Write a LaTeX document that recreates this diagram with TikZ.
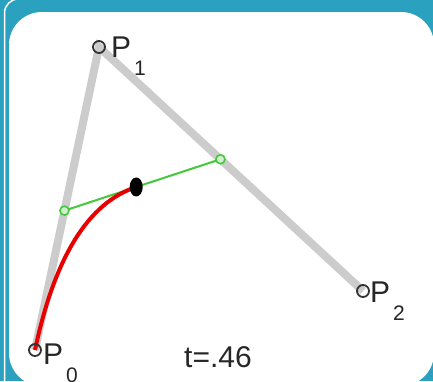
\documentclass[tikz,border=0pt]{standalone}
\usepackage{fontspec}
\setmainfont{Liberation Sans}
\usetikzlibrary{calc,shapes.geometric}
\definecolor{frameteal}{RGB}{42,161,191}
\definecolor{ctrlgray}{RGB}{204,204,204}
\definecolor{lerpgreen}{RGB}{70,200,60}
\definecolor{curvered}{RGB}{232,0,0}
\definecolor{markgray}{RGB}{50,50,50}
\tikzset{
  ctrlline/.style={ctrlgray, line width=8pt},
  greenline/.style={lerpgreen, line width=2pt},
  redcurve/.style={curvered, line width=4pt},
  ptmark/.style={circle, draw=markgray, line width=1.8pt, minimum size=12pt, inner sep=0pt},
  gmark/.style={circle, draw=lerpgreen, fill=lerpgreen!25, line width=1.6pt, minimum size=9pt, inner sep=0pt},
  bdot/.style={ellipse, fill=black, minimum width=13pt, minimum height=19pt, inner sep=0pt},
  lbl/.style={anchor=base west, inner sep=0pt, font=\fontsize{30}{30}\selectfont, text=black!85},
}
\newcommand{\subnum}[1]{\hspace{3pt}\raisebox{-18pt}{\fontsize{21}{21}\selectfont #1}}
\begin{document}
\begin{tikzpicture}[x=1pt,y=-1pt]
\useasboundingbox (0,0) rectangle (433,381);
\begin{scope}
\clip (0,0) rectangle (433,381);
\fill[frameteal] (0,0) rectangle (433,381);
\draw[white, line width=1.5pt, rounded corners=14pt] (4.5,-1) rectangle (600,600);
\fill[white, rounded corners=33pt] (9,12) rectangle (434,386);
\end{scope}
\coordinate (P0) at (35,350);
\coordinate (P1) at (99,47);
\coordinate (P2) at (363,291);
\coordinate (Q0) at ($(P0)!0.46!(P1)$);
\coordinate (Q1) at ($(P1)!0.46!(P2)$);
\coordinate (B) at ($(Q0)!0.46!(Q1)$);
\draw[ctrlline] (P0) -- (P1) -- (P2);
\draw[greenline] (Q0) -- (Q1);
\draw[redcurve] (P0) .. controls ($(P0)!2/3!(Q0)$) and ($(B)!2/3!(Q0)$) .. (B);
\node[ptmark] (m0) at (P0) {};
\node[ptmark] (m1) at (P1) {};
\node[ptmark] (m2) at (P2) {};
\node[gmark] (g0) at (Q0) {};
\node[gmark] (g1) at (Q1) {};
\node[bdot] (b) at (B) {};
\node[lbl] (l0) at (43,364) {P\subnum{0}};
\node[lbl] (l1) at (111,57) {P\subnum{1}};
\node[lbl] (l2) at (370,302) {P\subnum{2}};
\node[lbl] (lt) at (184,367) {t=.46};
\end{tikzpicture}
\end{document}
